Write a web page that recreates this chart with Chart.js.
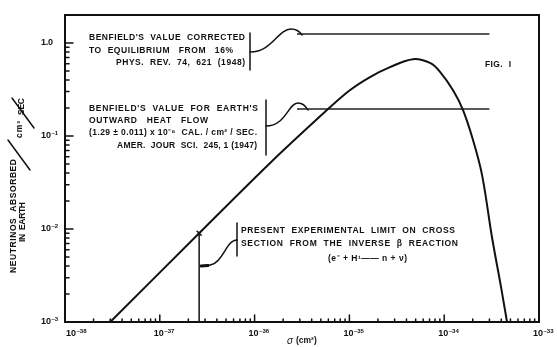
<!DOCTYPE html>
<html>
<head>
<meta charset="utf-8">
<script src="https://cdn.jsdelivr.net/npm/chart.js@4/dist/chart.umd.min.js"></script>
<style>
  body { margin: 0; background: #fff; }
  canvas { display: block; }
</style>
</head>
<body>
<canvas id="c" width="557" height="347"></canvas>
<script>
// cross section sigma (cm^2) vs neutrinos absorbed in earth /cm^2/sec
var sigma = [3.0e-38, 2.6e-37, 1.45e-36, 5.8e-36, 1.01e-35, 1.65e-35, 2.68e-35, 4.69e-35,
             7.08e-35, 9.04e-35, 1.24e-34, 1.58e-34, 2.01e-34, 2.51e-34, 3.19e-34, 3.97e-34, 4.6e-34];
var absorbed = [1.0e-3, 9.0e-3, 5.1e-2, 0.19, 0.31, 0.43, 0.55, 0.67,
                0.61, 0.49, 0.31, 0.19, 0.091, 0.038, 8.2e-3, 2.4e-3, 1.0e-3];

// Benfield's values, drawn as horizontal lines
var benfieldSigma = [2.8e-36, 3.0e-34];
var benfieldCorrected = [1.25, 1.25];
var benfieldHeatFlow = [0.195, 0.195];

// present experimental limit
var limitSigma = [2.6e-37, 2.6e-37];
var limitAbsorbed = [1.0e-3, 9.0e-3];

var xTicks = [1e-38, 1e-37, 1e-36, 1e-35, 1e-34, 1e-33];
var xTickExp = ["-38", "-37", "-36", "-35", "-34", "-33"];
var yTicks = [1e-3, 1e-2, 1e-1, 1];
var yTickExp = ["-3", "-2", "-1", null];

function pts(xs, ys) {
    return xs.map(function(x, i) { return {x: x, y: ys[i]}; });
}

var FONT = "'Liberation Sans', Arial, sans-serif";

// draw text stretched to a given width with letter spacing
function fitText(ctx, str, x, y, width) {
    ctx.letterSpacing = "0px";
    var w = ctx.measureText(str).width;
    var ls = (width - w) / Math.max(1, str.length - 1);
    ctx.letterSpacing = ls + "px";
    ctx.fillText(str, x, y);
    ctx.letterSpacing = "0px";
}

function line(ctx, pts, w) {
    ctx.lineWidth = w;
    ctx.beginPath();
    ctx.moveTo(pts[0], pts[1]);
    for (var i = 2; i < pts.length; i += 2) ctx.lineTo(pts[i], pts[i + 1]);
    ctx.stroke();
}

// "10" with a small raised exponent, left edge at x
function power(ctx, exp, x, y) {
    ctx.font = "bold 9px " + FONT;
    ctx.textAlign = "left";
    ctx.textBaseline = "middle";
    ctx.fillText("10", x, y);
    var w = ctx.measureText("10").width;
    ctx.font = "bold 6px " + FONT;
    ctx.fillText(exp.replace("-", "\u2013"), x + w + 0.5, y - 3);
    return w + 0.5 + ctx.measureText(exp).width;
}

var decorations = {
    id: "decorations",
    afterDraw: function(chart) {
        var ctx = chart.ctx;
        var a = chart.chartArea;
        var xs = chart.scales.x, ys = chart.scales.y;
        ctx.save();
        ctx.strokeStyle = "#111";
        ctx.fillStyle = "#111";
        ctx.lineCap = "round";

        // frame
        ctx.lineWidth = 2;
        ctx.strokeRect(a.left, a.top, a.right - a.left, a.bottom - a.top);

        // inward ticks
        for (var d = -3; d <= 0; d++) {
            for (var m = 1; m <= 9; m++) {
                var v = m * Math.pow(10, d);
                if (v > ys.max || (d == -3 && m == 1)) continue;
                var py = ys.getPixelForValue(v);
                line(ctx, [a.left, py, a.left + (m == 1 ? 8 : 4), py], 1.5);
            }
        }
        for (var d = -38; d <= -34; d++) {
            for (var m = 1; m <= 9; m++) {
                if (d == -38 && m == 1) continue;
                var px = xs.getPixelForValue(m * Math.pow(10, d));
                line(ctx, [px, a.bottom, px, a.bottom - (m == 1 ? 7 : 3)], 1.5);
            }
        }

        // tick labels
        xTicks.forEach(function(v, i) {
            var px = xs.getPixelForValue(v);
            power(ctx, xTickExp[i], i == 0 ? px + 1 : px - 6, a.bottom + 12);
        });
        yTicks.forEach(function(v, i) {
            var py = ys.getPixelForValue(v);
            if (yTickExp[i]) {
                power(ctx, yTickExp[i], 41, py);
            } else {
                ctx.font = "bold 9px " + FONT;
                ctx.textAlign = "left";
                fitText(ctx, "1.0", 41, py, 12);
            }
        });

        // brackets and connectors
        line(ctx, [250, 33, 250, 70], 1.5);
        ctx.lineWidth = 1.5;
        ctx.beginPath();
        ctx.moveTo(250, 52);
        ctx.bezierCurveTo(272, 52, 278, 29, 291, 29);
        ctx.quadraticCurveTo(298, 29, 302, 35);
        ctx.stroke();

        line(ctx, [266, 100, 266, 155], 1.5);
        ctx.beginPath();
        ctx.moveTo(266, 126);
        ctx.bezierCurveTo(286, 126, 288, 103, 298, 103);
        ctx.quadraticCurveTo(304, 103, 308, 110);
        ctx.stroke();

        line(ctx, [237, 223, 237, 256], 1.5);
        ctx.beginPath();
        ctx.moveTo(201, 266);
        ctx.lineTo(210, 265);
        ctx.bezierCurveTo(224, 262, 226, 240, 237, 240);
        ctx.stroke();
        line(ctx, [201, 266, 208, 265.5], 3);

        // limit marker
        var lx = xs.getPixelForValue(limitSigma[1]), ly = ys.getPixelForValue(limitAbsorbed[1]);
        line(ctx, [lx - 2, ly - 2, lx + 2, ly + 2], 1.5);
        line(ctx, [lx - 2, ly + 2, lx + 2, ly - 2], 1.5);

        // annotation text
        ctx.font = "bold 8.5px " + FONT;
        ctx.textBaseline = "middle";
        ctx.textAlign = "left";
        fitText(ctx, "BENFIELD'S  VALUE  CORRECTED", 89, 38, 156);
        fitText(ctx, "TO  EQUILIBRIUM   FROM   16%", 89, 51, 144);
        fitText(ctx, "PHYS.  REV.  74,  621  (1948)", 116, 63, 129);

        fitText(ctx, "BENFIELD'S  VALUE  FOR  EARTH'S", 89, 109, 169);
        fitText(ctx, "OUTWARD   HEAT   FLOW", 89, 121, 119);
        fitText(ctx, "(1.29 \u00B1 0.011) x 10\u207B\u2076  CAL. / cm\u00B2 / SEC.", 89, 133, 168);
        fitText(ctx, "AMER.  JOUR  SCI.  245, 1 (1947)", 117, 146, 140);

        fitText(ctx, "PRESENT  EXPERIMENTAL  LIMIT  ON  CROSS", 241, 231, 214);
        fitText(ctx, "SECTION  FROM  THE  INVERSE  \u03B2  REACTION", 241, 244, 217);
        fitText(ctx, "(e\u207B + H\u00B9\u2014\u2014 n + \u03BD)", 328, 259, 79);

        fitText(ctx, "FIG.  I", 485, 65, 26);

        // axis titles
        ctx.font = "italic 10px " + FONT;
        ctx.fillText("\u03C3", 287, 341);
        ctx.font = "bold 8.5px " + FONT;
        ctx.fillText("(cm\u00B2)", 296, 341);

        ctx.save();
        ctx.translate(14, 273);
        ctx.rotate(-Math.PI / 2);
        fitText(ctx, "NEUTRINOS  ABSORBED", 0, 0, 114);
        ctx.restore();
        ctx.save();
        ctx.translate(23, 242);
        ctx.rotate(-Math.PI / 2);
        fitText(ctx, "IN  EARTH", 0, 0, 40);
        ctx.restore();
        line(ctx, [30, 170, 8, 140], 1.5);
        ctx.save();
        ctx.translate(20, 138);
        ctx.rotate(-Math.PI / 2);
        fitText(ctx, "cm\u00B3", 0, 0, 17);
        ctx.restore();
        line(ctx, [34, 128, 12, 98], 1.5);
        ctx.save();
        ctx.translate(22, 115);
        ctx.rotate(-Math.PI / 2);
        fitText(ctx, "SEC", 0, 0, 17);
        ctx.restore();

        ctx.restore();
    }
};

new Chart(document.getElementById("c"), {
    type: "scatter",
    data: {
        datasets: [
            {
                data: pts(sigma, absorbed),
                showLine: true,
                borderColor: "#111",
                borderWidth: 2,
                pointRadius: 0,
                tension: 0.35
            },
            {
                data: pts(benfieldSigma, benfieldCorrected),
                showLine: true,
                borderColor: "#222",
                borderWidth: 1.5,
                pointRadius: 0
            },
            {
                data: pts(benfieldSigma, benfieldHeatFlow),
                showLine: true,
                borderColor: "#222",
                borderWidth: 1.5,
                pointRadius: 0
            },
            {
                data: pts(limitSigma, limitAbsorbed),
                showLine: true,
                borderColor: "#111",
                borderWidth: 1.5,
                pointRadius: 0
            }
        ]
    },
    options: {
        responsive: false,
        animation: false,
        devicePixelRatio: 1,
        layout: {padding: {top: 15, right: 18, left: 0, bottom: 0}},
        plugins: {legend: {display: false}, tooltip: {enabled: false}},
        scales: {
            x: {
                type: "logarithmic",
                min: 1e-38,
                max: 1e-33,
                grid: {display: false},
                border: {display: false},
                ticks: {display: false},
                afterFit: function(scale) { scale.height = 25; }
            },
            y: {
                type: "logarithmic",
                min: 1e-3,
                max: 2,
                grid: {display: false},
                border: {display: false},
                ticks: {display: false},
                afterFit: function(scale) { scale.width = 65; }
            }
        }
    },
    plugins: [decorations]
});
</script>
</body>
</html>
